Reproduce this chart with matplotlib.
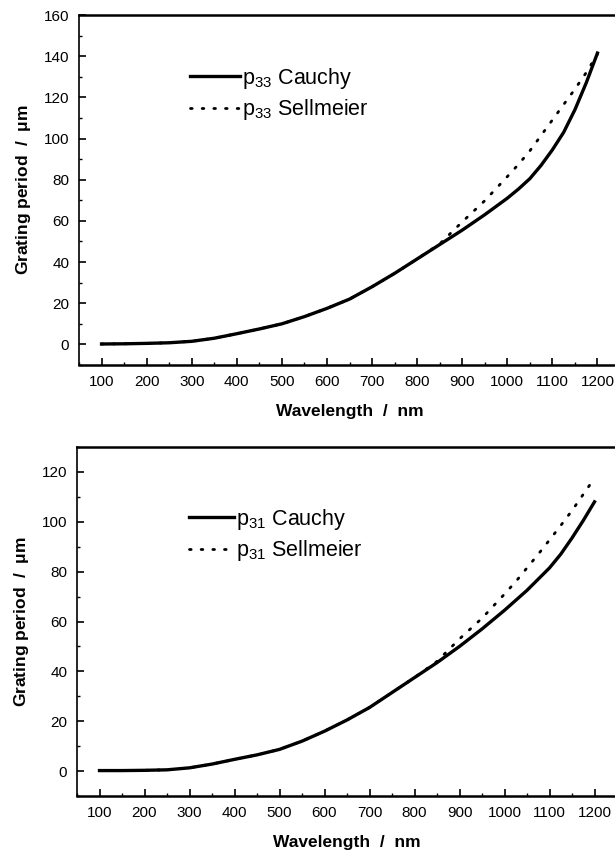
import matplotlib
matplotlib.use("Agg")
import matplotlib.pyplot as plt
from matplotlib.ticker import MultipleLocator

plt.rcParams['font.family'] = ['Liberation Sans', 'DejaVu Sans']
plt.rcParams['mathtext.fontset'] = 'custom'
plt.rcParams['mathtext.rm'] = 'Liberation Sans'

# ---- data ----
wl = [100, 150, 200, 250, 300, 350, 400, 450, 500, 550, 600, 650, 700, 750,
      800, 850, 900, 950, 1000, 1025, 1050, 1075, 1100, 1125, 1150, 1175, 1200]
p33_cauchy = [0.2, 0.3, 0.5, 0.8, 1.5, 3.0, 5.2, 7.5, 10.0, 13.5, 17.5, 22.0, 28.0, 34.5,
              41.5, 48.5, 55.5, 63.0, 71.0, 75.5, 80.5, 87.0, 94.5, 103.0, 114.0, 127.0, 141.5]
p33_sell = [0.2, 0.3, 0.5, 0.8, 1.5, 3.0, 5.2, 7.5, 10.0, 13.5, 17.5, 22.0, 28.0, 34.5,
            41.5, 48.8, 59.5, 69.8, 81.5, 87.5, 94.0, 101.5, 109.0, 116.5, 124.0, 132.0, 141.0]

p31_cauchy = [0.2, 0.2, 0.3, 0.5, 1.3, 2.8, 4.7, 6.5, 8.7, 12.0, 16.0, 20.5, 25.5, 31.5,
              37.5, 43.5, 50.0, 57.0, 64.5, 68.5, 72.5, 77.0, 81.5, 87.0, 93.5, 100.5, 108.0]
p31_sell = [0.2, 0.2, 0.3, 0.5, 1.3, 2.8, 4.7, 6.5, 8.7, 12.0, 16.0, 20.5, 25.5, 31.5,
            37.5, 44.0, 53.0, 61.3, 71.0, 76.0, 81.5, 87.0, 92.7, 98.5, 104.5, 111.0, 117.5]

x_ticks = [100, 200, 300, 400, 500, 600, 700, 800, 900, 1000, 1100, 1200]
top_yticks = [0, 20, 40, 60, 80, 100, 120, 140, 160]
bot_yticks = [0, 20, 40, 60, 80, 100, 120]

fig = plt.figure(figsize=(6.15, 8.52), dpi=100)
W, H = 615.0, 852.0

def make_ax(left, top, bottom, right):
    return fig.add_axes([left / W, 1 - bottom / H, (right - left) / W, (bottom - top) / H])

ax1 = make_ax(79, 15, 365, 620)
ax2 = make_ax(77, 447, 796, 617)

def style(ax, ylim, yticks, sub, yc, ys):
    ax.plot(wl, ys, color='black', lw=2.0, linestyle=(0, (0.6, 3.6)),
            dash_capstyle='round', label=r'p$_{\mathregular{' + sub + r'}}$ Sellmeier', zorder=2)
    ax.plot(wl, yc, color='black', lw=2.4, label=r'p$_{\mathregular{' + sub + r'}}$ Cauchy', zorder=3)
    ax.set_xlim(50, 1250)
    ax.set_ylim(*ylim)
    ax.set_xticks(x_ticks)
    ax.set_yticks(yticks)
    ax.xaxis.set_minor_locator(MultipleLocator(50))
    ax.yaxis.set_minor_locator(MultipleLocator(10))
    ax.tick_params(which='major', direction='in', length=5, width=1.2, labelsize=11, pad=7)
    ax.tick_params(which='minor', direction='in', length=2.5, width=1.0)
    ax.tick_params(axis='x', which='both', top=False)
    ax.tick_params(axis='y', which='both', right=False)
    for s in ['top', 'bottom']:
        ax.spines[s].set_linewidth(1.8)
    ax.spines['left'].set_linewidth(1.2)
    ax.spines['right'].set_visible(False)
    ax.set_xlabel('Wavelength  /  nm', fontsize=12.5, fontweight='bold', labelpad=11)
    ax.set_ylabel(r'Grating period  /  $\mathregular{\mu}$m', fontsize=12.5, fontweight='bold', labelpad=8)
    h, l = ax.get_legend_handles_labels()
    return h[::-1], l[::-1]

h1, l1 = style(ax1, (-10, 160), top_yticks, '33', p33_cauchy, p33_sell)
h2, l2 = style(ax2, (-10, 130), bot_yticks, '31', p31_cauchy, p31_sell)

ax1.legend(h1, l1, loc='upper left', bbox_to_anchor=((190 - 79) / 541, 1 - (66 - 15) / 350),
           frameon=False, fontsize=15.5, handlelength=2.3, handletextpad=0.1,
           borderpad=0, borderaxespad=0, labelspacing=0.3)
ax2.legend(h2, l2, loc='upper left', bbox_to_anchor=((189 - 77) / 540, 1 - (507 - 447) / 349),
           frameon=False, fontsize=15.5, handlelength=2.1, handletextpad=0.1,
           borderpad=0, borderaxespad=0, labelspacing=0.3)

fig.savefig('out.png', dpi=100)
